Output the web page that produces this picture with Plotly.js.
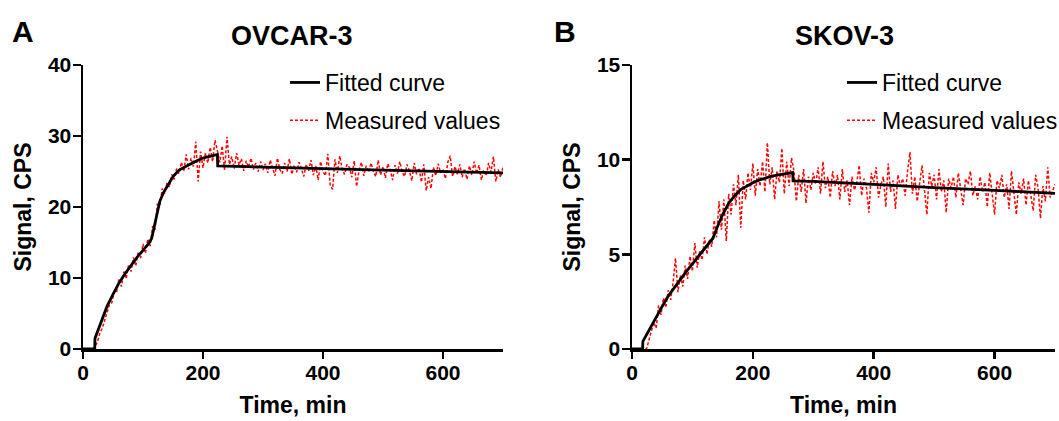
<!DOCTYPE html>
<html>
<head>
<meta charset="utf-8">
<script src="https://cdn.plot.ly/plotly-3.0.1.min.js"></script>
<style>html,body{margin:0;padding:0;background:#fff;}#chart{width:1059px;height:421px;}</style>
</head>
<body>
<div id="chart"></div>
<script>
// Measurement times (min), shared by both panels
var measTime = [
  16,20,24,28,32,36,40,44,48,52,
  56,60,64,68,72,76,80,84,88,92,
  96,100,104,108,112,116,120,124,128,132,
  136,140,144,148,152,156,160,164,168,172,
  176,180,184,188,192,196,200,204,208,212,
  216,220,224,228,232,236,240,244,248,252,
  256,260,264,268,272,276,280,284,288,292,
  296,300,304,308,312,316,320,324,328,332,
  336,340,344,348,352,356,360,364,368,372,
  376,380,384,388,392,396,400,404,408,412,
  416,420,424,428,432,436,440,444,448,452,
  456,460,464,468,472,476,480,484,488,492,
  496,500,504,508,512,516,520,524,528,532,
  536,540,544,548,552,556,560,564,568,572,
  576,580,584,588,592,596,600,604,608,612,
  616,620,624,628,632,636,640,644,648,652,
  656,660,664,668,672,676,680,684,688,692,
  696,700
];

// Panel A: OVCAR-3 measured signal (CPS)
var measA = [
  0.0,0.3,1.0,2.2,2.9,4.0,5.0,6.2,6.5,8.1,
  8.0,9.9,8.8,10.9,9.9,11.9,10.9,12.9,11.7,13.7,
  12.8,14.8,13.5,15.5,14.5,17.3,16.8,20.4,20.2,22.6,
  21.9,23.4,22.8,24.6,23.9,25.4,24.7,26.3,25.0,27.4,
  25.3,26.9,25.7,29.2,23.6,27.8,25.5,27.6,26.2,28.4,
  26.4,29.4,27.9,26.3,28.6,25.2,29.9,26.0,27.1,25.4,
  27.6,25.9,26.8,25.1,26.5,25.6,26.9,25.3,26.2,25.0,
  26.4,25.2,26.1,24.8,26.6,25.5,24.4,26.9,25.3,24.7,
  26.2,25.0,26.8,24.6,25.9,24.9,26.3,25.4,24.3,26.0,
  25.1,26.6,24.5,25.8,23.8,26.4,25.0,24.4,27.5,23.0,
  22.5,26.7,24.8,27.2,25.3,24.6,26.0,25.6,24.2,26.5,
  22.9,25.1,26.3,24.4,25.8,24.9,26.2,25.0,24.3,26.6,
  24.5,25.7,24.1,26.1,25.2,23.8,25.9,24.7,26.4,24.9,
  24.3,26.0,25.1,23.7,26.2,24.6,25.5,23.5,26.0,22.3,
  24.2,22.6,25.6,24.4,26.1,24.8,25.3,24.0,26.3,27.2,
  24.3,25.7,24.6,26.0,24.2,25.4,23.9,25.8,24.5,26.4,
  24.7,25.9,23.8,25.2,24.4,26.2,24.9,27.1,23.6,25.3,
  24.2,25.6
];

// Panel B: SKOV-3 measured signal (CPS)
var measB = [
  0.0,0.1,0.0,0.5,0.9,1.4,1.1,2.3,1.8,2.7,
  2.2,3.1,2.6,3.5,4.8,3.0,3.9,3.3,4.4,3.7,
  4.9,4.1,5.6,4.3,5.2,4.7,5.9,5.0,5.8,5.4,
  6.8,5.9,7.8,6.3,7.9,5.7,8.2,7.1,8.7,7.6,
  9.2,6.4,8.9,7.9,9.3,8.4,9.8,8.1,9.5,8.6,
  9.9,8.3,10.9,8.7,9.6,7.9,9.4,8.8,10.6,8.2,
  9.9,8.6,10.1,9.4,7.8,9.2,8.3,9.5,7.7,9.1,
  8.4,9.3,8.7,9.6,8.2,9.9,8.5,9.1,8.0,9.4,
  8.6,9.2,7.9,9.5,8.3,8.9,7.6,9.1,8.4,8.8,
  9.7,8.1,9.0,8.5,7.2,9.3,8.8,9.6,8.0,8.7,
  9.1,7.5,9.8,8.3,8.9,7.4,9.2,8.6,9.0,8.1,
  9.4,10.4,8.2,9.1,7.8,8.8,9.7,8.4,7.1,9.3,
  8.6,9.2,7.9,9.5,8.3,8.9,7.2,9.0,8.5,9.1,
  8.0,9.3,8.4,7.6,9.0,8.7,9.4,8.1,8.6,7.9,
  9.1,8.3,8.8,7.5,9.3,8.2,7.1,8.9,8.5,9.2,
  8.0,8.7,7.4,9.4,8.3,7.1,8.8,8.2,9.0,7.6,
  8.9,8.1,7.3,9.2,8.5,6.9,8.6,7.8,9.6,8.0,
  8.4,8.7
];

// Fitted curves
var fitATime = [0,19.5,20,30,40,50,60,70,80,90,100,110,114.5,120,124,128,134,140,150,160,170,180,190,200,210,220,224,224.5,300,400,500,600,700];
var fitAVal  = [0,0,1.5,3.8,6.0,7.7,9.3,10.6,11.8,12.9,13.9,14.9,15.6,17.6,19.4,20.8,22.0,22.9,24.3,25.2,25.7,26.1,26.5,26.9,27.1,27.3,27.4,25.8,25.6,25.4,25.2,25.0,24.8];
var fitBTime = [0,17.5,18,30,40,50,60,70,80,90,100,110,120,134,140,150,160,170,180,190,200,210,220,230,240,250,266,266.5,300,400,500,600,700];
var fitBVal  = [0,0,0.4,1.1,1.72,2.25,2.8,3.25,3.68,4.1,4.5,4.9,5.3,5.85,6.35,7.1,7.7,8.1,8.42,8.62,8.78,8.92,9.03,9.12,9.18,9.23,9.32,8.88,8.85,8.7,8.52,8.38,8.22];

var panelTitles = ['OVCAR-3', 'SKOV-3'];
var panelLetters = ['A', 'B'];
var xTicks = [0, 200, 400, 600];

var FONT = 'Liberation Sans, Arial, sans-serif';
var W = 1059, H = 421;

function axisX(domain, anchor) {
  return {
    domain: domain, anchor: anchor, range: [0, 700],
    tickvals: xTicks, ticktext: xTicks.map(String),
    showline: true, linecolor: '#000', linewidth: 2.5,
    ticks: 'outside', ticklen: 7, tickwidth: 2.5, tickcolor: '#000',
    ticklabelstandoff: -4,
    showgrid: false, zeroline: false,
    tickfont: {family: FONT, size: 21, color: '#000', weight: 'bold'},
    title: {text: 'Time, min', font: {family: FONT, size: 23, color: '#000', weight: 'bold'}, standoff: 14}
  };
}
function axisY(domain, anchor, max, dt) {
  return {
    domain: domain, anchor: anchor, range: [0, max], dtick: dt, tick0: 0,
    showline: true, linecolor: '#000', linewidth: 2.5,
    ticks: 'outside', ticklen: 8, tickwidth: 2.5, tickcolor: '#000',
    ticklabelstandoff: -3,
    showgrid: false, zeroline: false,
    tickfont: {family: FONT, size: 21, color: '#000', weight: 'bold'},
    title: {text: 'Signal, CPS', font: {family: FONT, size: 23, color: '#000', weight: 'bold'}, standoff: 10}
  };
}

var yDom = [(H - 349) / H, (H - 65) / H];

var data = [
  {x: measTime, y: measA, xaxis: 'x', yaxis: 'y', type: 'scatter', mode: 'lines',
   name: 'Measured values', line: {color: '#ff0000', width: 1.5, dash: '3px,2px'},
   legend: 'legend', legendrank: 2, legendgroup: 'a2'},
  {x: fitATime, y: fitAVal, xaxis: 'x', yaxis: 'y', type: 'scatter', mode: 'lines',
   name: 'Fitted curve', line: {color: '#000', width: 2.8},
   legend: 'legend', legendrank: 1, legendgroup: 'a1'},
  {x: measTime, y: measB, xaxis: 'x2', yaxis: 'y2', type: 'scatter', mode: 'lines',
   name: 'Measured values', line: {color: '#ff0000', width: 1.5, dash: '3px,2px'},
   legend: 'legend2', legendrank: 2, legendgroup: 'b2'},
  {x: fitBTime, y: fitBVal, xaxis: 'x2', yaxis: 'y2', type: 'scatter', mode: 'lines',
   name: 'Fitted curve', line: {color: '#000', width: 2.8},
   legend: 'legend2', legendrank: 1, legendgroup: 'b1'}
];

var legendBase = {
  font: {family: FONT, size: 23, color: '#000'},
  bgcolor: 'rgba(0,0,0,0)', borderwidth: 0,
  xanchor: 'left', yanchor: 'top', traceorder: 'grouped', tracegroupgap: 5
};

var layout = {
  width: W, height: H,
  margin: {l: 0, r: 0, t: 0, b: 0, autoexpand: false},
  paper_bgcolor: '#fff', plot_bgcolor: '#fff',
  showlegend: true,
  xaxis: axisX([83 / W, 503 / W], 'y'),
  yaxis: axisY(yDom, 'x', 40, 10),
  xaxis2: axisX([632 / W, 1055 / W], 'y2'),
  yaxis2: axisY(yDom, 'x2', 15, 5),
  legend: Object.assign({x: 285 / W, y: 1 - 61 / H}, legendBase),
  legend2: Object.assign({x: 842 / W, y: 1 - 61 / H}, legendBase),
  annotations: [
    {text: panelTitles[0], xref: 'paper', yref: 'paper', x: 292 / W, y: 1 - 36 / H, xanchor: 'center', yanchor: 'middle', showarrow: false,
     font: {family: FONT, size: 27, color: '#000', weight: 'bold'}},
    {text: panelTitles[1], xref: 'paper', yref: 'paper', x: 844 / W, y: 1 - 36 / H, xanchor: 'center', yanchor: 'middle', showarrow: false,
     font: {family: FONT, size: 27, color: '#000', weight: 'bold'}},
    {text: panelLetters[0], xref: 'paper', yref: 'paper', x: 10 / W, y: 1 - 31 / H, xanchor: 'left', yanchor: 'middle', showarrow: false,
     font: {family: FONT, size: 30, color: '#000', weight: 'bold'}},
    {text: panelLetters[1], xref: 'paper', yref: 'paper', x: 552 / W, y: 1 - 31 / H, xanchor: 'left', yanchor: 'middle', showarrow: false,
     font: {family: FONT, size: 30, color: '#000', weight: 'bold'}}
  ]
};

Plotly.newPlot('chart', data, layout, {displayModeBar: false, staticPlot: true});
</script>
</body>
</html>
